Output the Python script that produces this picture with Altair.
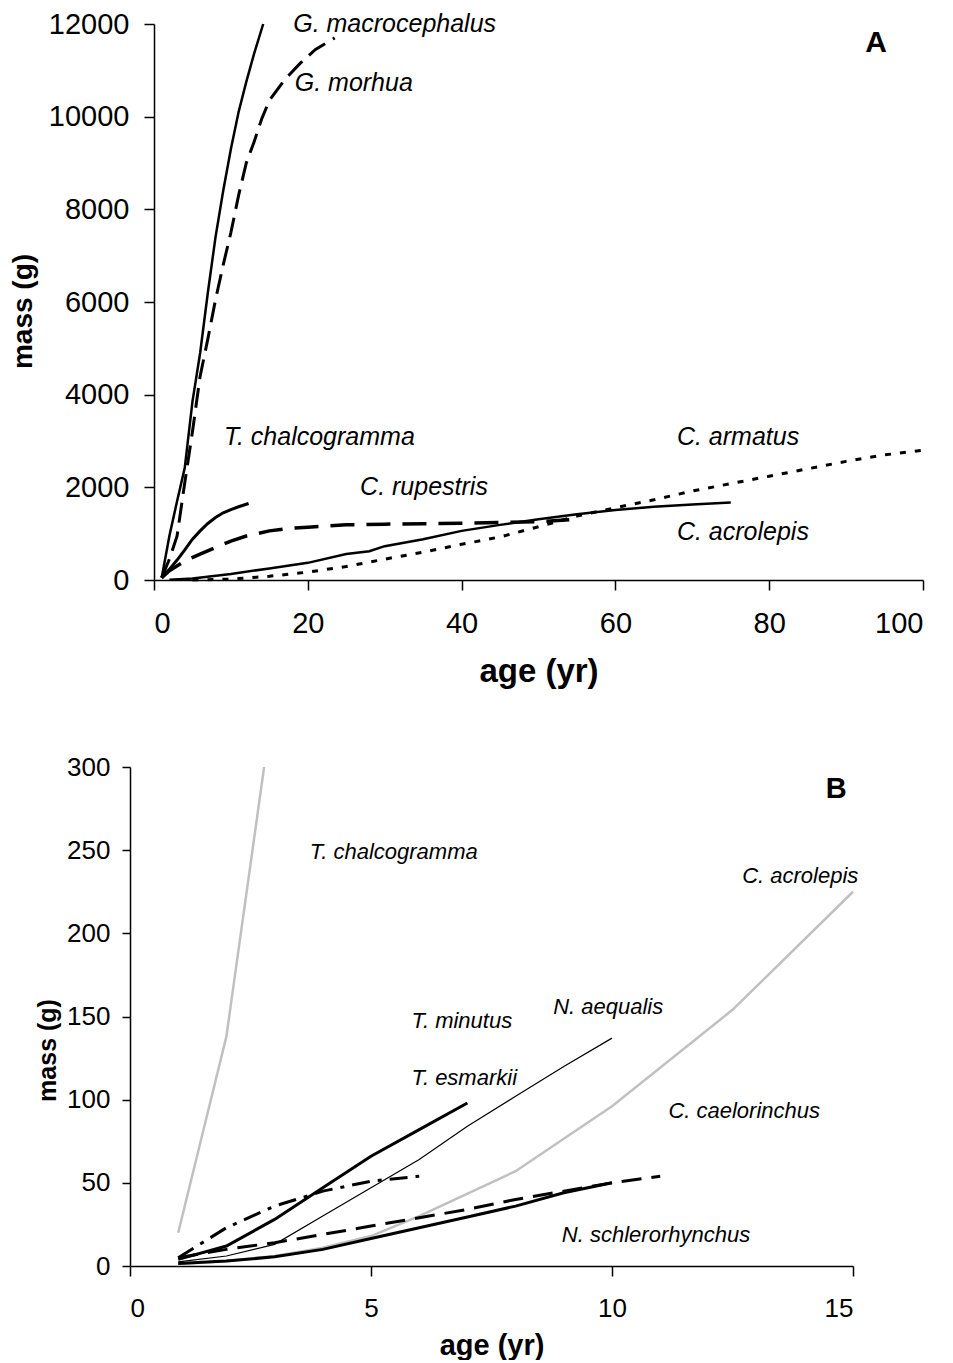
import altair as alt
import pandas as pd

FONT = "Liberation Sans"

# ---------------- Panel A data ----------------
a_gmac_age = [1, 2, 3, 4, 5, 6, 7, 8, 9, 10, 11, 12, 13, 14.2]
a_gmac_mass = [50, 950, 1700, 2420, 3850, 4900, 6200, 7400, 8400, 9300, 10100, 10750, 11350, 12000]

a_gmor_age = [1, 2, 3, 4, 5, 6, 7, 8, 9, 10, 11, 12, 13, 14, 15, 17, 19, 21, 23.5]
a_gmor_mass = [50, 450, 950, 2100, 3200, 4400, 5200, 6050, 6800, 7500, 8300, 9000, 9450, 9950, 10350, 10800, 11150, 11450, 11700]

a_tcha_age = [1, 2, 3, 4, 5, 6, 7, 8, 9, 10, 11, 12.3]
a_tcha_mass = [50, 230, 430, 650, 880, 1060, 1220, 1350, 1450, 1520, 1580, 1650]

a_crup_age = [1, 2, 4, 6, 8, 10, 12, 15, 18, 20, 25, 30, 35, 40, 45, 50, 54]
a_crup_mass = [50, 200, 410, 560, 700, 840, 950, 1060, 1120, 1140, 1190, 1205, 1215, 1225, 1240, 1260, 1300]

a_cacr_age = [2, 5, 10, 15, 20, 25, 28, 30, 35, 40, 45, 50, 55, 60, 65, 70, 75]
a_cacr_mass = [5, 30, 130, 250, 370, 560, 620, 730, 880, 1060, 1190, 1310, 1420, 1510, 1580, 1630, 1670]

a_carm_age = [5, 10, 15, 20, 25, 30, 35, 40, 45, 50, 55, 60, 65, 70, 75, 80, 85, 90, 95, 100]
a_carm_mass = [0, 20, 80, 170, 290, 450, 600, 770, 930, 1150, 1380, 1560, 1730, 1920, 2080, 2240, 2400, 2560, 2700, 2800]

a_label_text = ["G. macrocephalus", "G. morhua", "T. chalcogramma", "C. rupestris", "C. armatus", "C. acrolepis"]
a_label_x = [18.1, 18.3, 9.1, 26.8, 68.0, 68.0]
a_label_y = [12000, 10727, 3087, 2007, 3087, 1036]

# ---------------- Panel B data ----------------
b_tcha_age = [1, 2, 3]
b_tcha_mass = [20, 138, 345]

b_cacr_age = [1, 2, 3, 4, 5, 6, 8, 10, 12.5, 15]
b_cacr_mass = [1, 3, 6, 11, 18, 30, 57, 96, 154, 225]

b_naeq_age = [1, 2, 3, 4, 5, 6, 7, 8, 9, 10]
b_naeq_mass = [2.5, 6, 13, 30, 47, 64, 84, 102, 120, 137]

b_tesm_age = [1, 2, 3, 4, 5, 6, 7]
b_tesm_mass = [4, 12, 28, 47, 66, 82, 98]

b_tmin_age = [1, 2, 3, 4, 5, 6]
b_tmin_mass = [5, 23, 36, 45, 51, 54]

b_ccae_age = [1, 2, 3, 4, 5, 6, 7, 8, 9, 10, 11]
b_ccae_mass = [5, 10, 14, 19, 24, 29, 34, 40, 45, 50, 54]

b_nsch_age = [1, 2, 3, 4, 5, 6, 7, 8, 9, 10]
b_nsch_mass = [1.5, 3, 5.5, 10, 16.5, 23, 29.5, 36, 44, 50]

b_label_text = ["T. chalcogramma", "C. acrolepis", "N. aequalis", "T. minutus", "T. esmarkii",
                "C. caelorinchus", "N. schlerorhynchus"]
b_label_x = [3.73, 12.7, 8.78, 5.84, 5.84, 11.17, 8.96]
b_label_y = [249, 234.5, 156, 147, 113, 93, 18.6]


def line_layer(ages, masses, x_enc, y_enc, color="black", width=2.5, dash=None, clip=False):
    df = pd.DataFrame({"age": ages, "mass": masses})
    kw = dict(color=color, strokeWidth=width, clip=clip)
    if dash is not None:
        kw["strokeDash"] = dash
    return alt.Chart(df).mark_line(**kw).encode(x=x_enc, y=y_enc)


# ---------------- Panel A ----------------
ax_x = alt.X("age:Q", scale=alt.Scale(domain=[0, 100], nice=False),
             axis=alt.Axis(values=[0, 20, 40, 60, 80, 100], title="age (yr)", format="d",
                           titleFontSize=33, titleFontWeight="bold", titleFont=FONT,
                           titleColor="black", titleY=91, titleBaseline="middle",
                           labelFontSize=29, labelFont=FONT, labelColor="black",
                           labelPadding=19, tickSize=10, tickColor="black", tickWidth=1.5,
                           domainColor="black", domainWidth=1.5, grid=False))
ax_y = alt.Y("mass:Q", scale=alt.Scale(domain=[0, 12000], nice=False),
             axis=alt.Axis(values=[0, 2000, 4000, 6000, 8000, 10000, 12000], title="mass (g)",
                           format="d",
                           titleFontSize=28, titleFontWeight="bold", titleFont=FONT,
                           titleColor="black", titleX=-131, titleY=287, titleBaseline="middle",
                           titleAngle=270,
                           labelFontSize=29, labelFont=FONT, labelColor="black",
                           labelPadding=15, tickSize=10, tickColor="black", tickWidth=1.5,
                           domainColor="black", domainWidth=1.5, grid=False))

a_layers = [
    line_layer(a_carm_age, a_carm_mass, ax_x, ax_y, width=3, dash=[6, 9]),
    line_layer(a_crup_age, a_crup_mass, ax_x, ax_y, width=3.5, dash=[24, 12]),
    line_layer(a_cacr_age, a_cacr_mass, ax_x, ax_y, width=2.5),
    line_layer(a_tcha_age, a_tcha_mass, ax_x, ax_y, width=3),
    line_layer(a_gmor_age, a_gmor_mass, ax_x, ax_y, width=3, dash=[20, 9]),
    line_layer(a_gmac_age, a_gmac_mass, ax_x, ax_y, width=2.5),
]

a_lab_df = pd.DataFrame({"t": a_label_text, "age": a_label_x, "mass": a_label_y})
a_text = alt.Chart(a_lab_df).mark_text(
    align="left", baseline="middle", fontSize=25, fontStyle="italic", font=FONT, color="black"
).encode(x=ax_x, y=ax_y, text="t:N")

a_letter = alt.Chart(pd.DataFrame({"t": ["A"], "age": [93.9], "mass": [11590]})).mark_text(
    align="center", baseline="middle", fontSize=30, fontWeight="bold", font=FONT, color="black"
).encode(x=ax_x, y=ax_y, text="t:N")

panel_a = alt.layer(*a_layers, a_text, a_letter).properties(width=769, height=556)

# ---------------- Panel B ----------------
# panel B's axes sit 24px further left than panel A's: the x range starts left of
# the shared plot origin and the y axis is offset by the same amount
B_SHIFT = 24
B_W = 723
bx_x = alt.X("age:Q", scale=alt.Scale(domain=[0, 15], nice=False, range=[-B_SHIFT, B_W - B_SHIFT]),
             axis=alt.Axis(values=[0, 5, 10, 15], title="age (yr)", format="d",
                           titleFontSize=29, titleFontWeight="bold", titleFont=FONT,
                           titleColor="black", titleY=79, titleBaseline="middle",
                           labelFontSize=26, labelFont=FONT, labelColor="black",
                           labelPadding=19, tickSize=10, tickColor="black", tickWidth=1.5,
                           domainColor="black", domainWidth=1.5, grid=False))
bx_y = alt.Y("mass:Q", scale=alt.Scale(domain=[0, 300], nice=False),
             axis=alt.Axis(values=[0, 50, 100, 150, 200, 250, 300], title="mass (g)",
                           format="d", offset=B_SHIFT,
                           titleFontSize=25, titleFontWeight="bold", titleFont=FONT,
                           titleColor="black", titleX=-83, titleY=283, titleBaseline="middle",
                           titleAngle=270,
                           labelFontSize=26, labelFont=FONT, labelColor="black",
                           labelPadding=12, tickSize=8, tickColor="black", tickWidth=1.5,
                           domainColor="black", domainWidth=1.5, grid=False))

GRAY = "#c0c0c0"
b_layers = [
    line_layer(b_tcha_age, b_tcha_mass, bx_x, bx_y, color=GRAY, width=2.5, clip=True),
    line_layer(b_cacr_age, b_cacr_mass, bx_x, bx_y, color=GRAY, width=2.5),
    line_layer(b_naeq_age, b_naeq_mass, bx_x, bx_y, width=1.2),
    line_layer(b_nsch_age, b_nsch_mass, bx_x, bx_y, width=3),
    line_layer(b_ccae_age, b_ccae_mass, bx_x, bx_y, width=3, dash=[20, 10]),
    line_layer(b_tmin_age, b_tmin_mass, bx_x, bx_y, width=3, dash=[18, 8, 4, 8]),
    line_layer(b_tesm_age, b_tesm_mass, bx_x, bx_y, width=3),
]

b_lab_df = pd.DataFrame({"t": b_label_text, "age": b_label_x, "mass": b_label_y})
b_text = alt.Chart(b_lab_df).mark_text(
    align="left", baseline="middle", fontSize=22, fontStyle="italic", font=FONT, color="black"
).encode(x=bx_x, y=bx_y, text="t:N")

b_letter = alt.Chart(pd.DataFrame({"t": ["B"], "age": [14.65], "mass": [287]})).mark_text(
    align="center", baseline="middle", fontSize=29, fontWeight="bold", font=FONT, color="black"
).encode(x=bx_x, y=bx_y, text="t:N")

panel_b = alt.layer(*b_layers, b_text, b_letter).properties(width=B_W - B_SHIFT, height=499)

chart = alt.vconcat(panel_a, panel_b, spacing=66).properties(
    padding={"left": 1, "top": 2, "right": 0, "bottom": 0},
    background="white",
).configure_view(stroke=None)

chart.save("out.html", embed_options={"renderer": "svg", "actions": False})
